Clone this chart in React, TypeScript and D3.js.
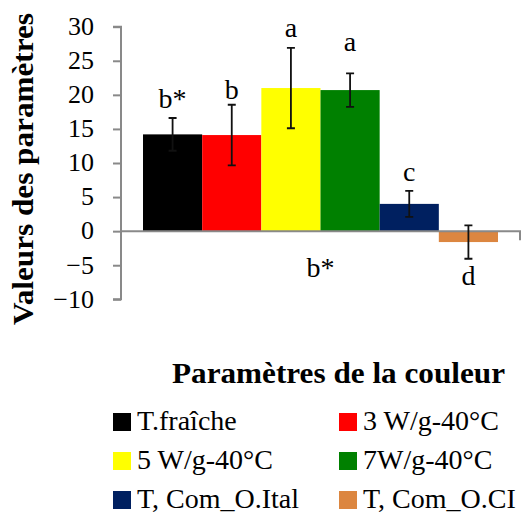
import { useEffect, useRef } from "react";
import * as d3 from "d3";

// Chart data
const category = "Paramètres de la couleur";
const series = ["T.fraîche", "3 W/g-40°C", "5 W/g-40°C", "7W/g-40°C", "T, Com_O.Ital", "T, Com_O.CI"];
const values = [14.2, 14.1, 21.0, 20.7, 4.0, -1.6];
const errors = [2.4, 4.45, 5.9, 2.45, 1.9, 2.45];
const letters = ["b*", "b", "a", "a", "c", "d"];
const groupLetter = "b*";
const colors = ["#000000", "#ff0000", "#ffff00", "#008000", "#002060", "#dc8640"];
const yTicks = [-10, -5, 0, 5, 10, 15, 20, 25, 30];

const W = 525;
const H = 513;
const FONT = "Liberation Serif, DejaVu Serif, serif";

export default function App() {
  const svgRef = useRef<SVGSVGElement | null>(null);

  useEffect(() => {
    if (!svgRef.current) return;
    const svg = d3.select(svgRef.current);
    svg.selectAll("*").remove();

    const plot = { left: 121, right: 520, top: 26.7, bottom: 299.3 };
    const axisColor = "#898989";

    const y = d3.scaleLinear().domain([-10, 30]).range([plot.bottom, plot.top]);
    const x0 = d3
      .scaleBand<string>()
      .domain([category])
      .range([plot.left, plot.right])
      .paddingInner(0)
      .paddingOuter(0.062);
    const x1 = d3
      .scaleBand<string>()
      .domain(series)
      .range([0, x0.bandwidth()])
      .padding(0);

    const g = svg.append("g").attr("font-family", FONT);

    // Y axis
    const yAxis = g
      .append("g")
      .attr("transform", `translate(${plot.left},0)`)
      .call(d3.axisLeft(y).tickValues(yTicks).tickSize(8).tickPadding(19));
    yAxis.attr("font-family", FONT).attr("font-size", 26);
    yAxis.select(".domain").attr("stroke", axisColor).attr("stroke-width", 2).attr("d", `M-8,${y(30)}H0V${y(-10)}H-8`);
    yAxis.selectAll(".tick line").attr("stroke", axisColor).attr("stroke-width", 2);
    yAxis.selectAll(".tick text").attr("fill", "#000").attr("dy", "0.3em");

    // Bars
    const bx = (s: string) => (x0(category) || 0) + (x1(s) || 0);
    g.selectAll("rect.bar")
      .data(series)
      .join("rect")
      .attr("class", "bar")
      .attr("x", (s) => bx(s))
      .attr("width", x1.bandwidth())
      .attr("y", (_, i) => y(Math.max(0, values[i])))
      .attr("height", (_, i) => Math.abs(y(values[i]) - y(0)))
      .attr("fill", (_, i) => colors[i]);

    // Category axis at zero
    g.append("path")
      .attr("d", `M${plot.left},${y(0)}H${plot.right}V${y(0) + 9}`)
      .attr("fill", "none")
      .attr("stroke", axisColor)
      .attr("stroke-width", 2);

    // Error bars
    const cap = 4;
    series.forEach((s, i) => {
      const cx = bx(s) + x1.bandwidth() / 2;
      const hi = y(values[i] + errors[i]);
      const lo = y(values[i] - errors[i]);
      g.append("path")
        .attr("d", `M${cx},${hi}V${lo}M${cx - cap},${hi}H${cx + cap}M${cx - cap},${lo}H${cx + cap}`)
        .attr("stroke", "#111")
        .attr("stroke-width", 1.8)
        .attr("fill", "none");
    });

    // Significance letters
    const labelGap = [10, 6, 11, 22, 10, 26];
    g.selectAll("text.letter")
      .data(series)
      .join("text")
      .attr("class", "letter")
      .attr("x", (s) => bx(s) + x1.bandwidth() / 2)
      .attr("y", (_, i) =>
        values[i] >= 0 ? y(values[i] + errors[i]) - labelGap[i] : y(values[i] - errors[i]) + labelGap[i]
      )
      .attr("text-anchor", "middle")
      .attr("font-size", 28)
      .text((_, i) => letters[i]);

    g.append("text")
      .attr("x", (x0(category) || 0) + x0.bandwidth() / 2)
      .attr("y", y(0) + 46)
      .attr("text-anchor", "middle")
      .attr("font-size", 28)
      .text(groupLetter);

    // Axis titles
    g.append("text")
      .attr("transform", `translate(33,169) rotate(-90)`)
      .attr("text-anchor", "middle")
      .attr("textLength", 312)
      .attr("lengthAdjust", "spacingAndGlyphs")
      .attr("font-size", 29)
      .attr("font-weight", "bold")
      .text("Valeurs des paramètres");

    g.append("text")
      .attr("x", 172)
      .attr("y", 383)
      .attr("textLength", 333)
      .attr("lengthAdjust", "spacingAndGlyphs")
      .attr("font-size", 29)
      .attr("font-weight", "bold")
      .text(category);

    // Legend
    const colX = [113, 339];
    const rowY = [430, 469, 508];
    const items = g
      .append("g")
      .selectAll("g.item")
      .data(series)
      .join("g")
      .attr("class", "item")
      .attr("transform", (_, i) => `translate(${colX[i % 2]},${rowY[Math.floor(i / 2)]})`);
    items
      .append("rect")
      .attr("x", 0)
      .attr("y", -17)
      .attr("width", 18)
      .attr("height", 18)
      .attr("fill", (_, i) => colors[i]);
    items
      .append("text")
      .attr("x", 24)
      .attr("y", 0)
      .attr("font-size", 28)
      .text((s) => s);
  }, []);

  return (
    <svg
      ref={svgRef}
      width={W}
      height={H}
      style={{ position: "absolute", left: 0, top: 0, background: "#fff" }}
    />
  );
}
